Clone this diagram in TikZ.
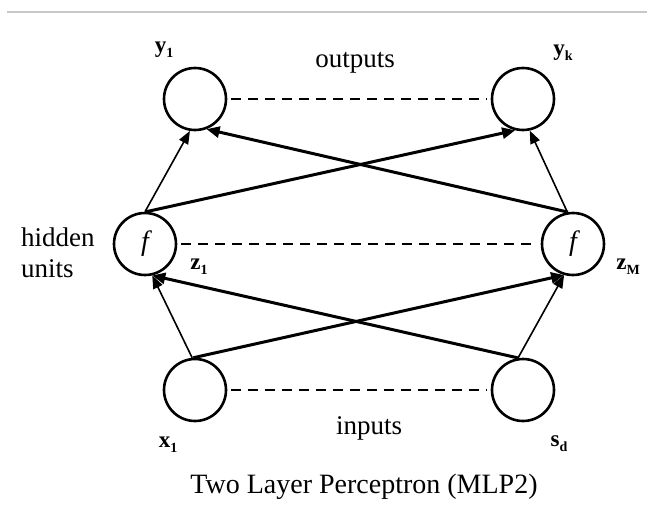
\documentclass[tikz,border=0pt]{standalone}
\usepackage{fontspec}
\setmainfont{Liberation Serif}
\usetikzlibrary{arrows.meta}
\newcommand\sublab[2]{{\fontsize{23}{24}\selectfont\bfseries #1}{\fontsize{14}{15}\selectfont\bfseries\raisebox{-5pt}{#2}}}
\begin{document}
\begin{tikzpicture}[x=1pt,y=-1pt,
  neuron/.style={circle,draw,line width=2.6pt,minimum size=62pt,inner sep=0pt},
  lightarrow/.style={line width=1.6pt,-{Triangle[length=13pt,width=10pt]}},
  heavyarrow/.style={line width=3pt,-{Triangle[length=13pt,width=11pt]}},
  dashline/.style={line width=2.4pt,dash pattern=on 10pt off 7pt,shorten <=4pt,shorten >=4pt},
  lbl/.style={font=\fontsize{27}{31}\selectfont,inner sep=0pt},
  fsym/.style={font=\fontsize{28}{30}\selectfont\itshape}]
\useasboundingbox (0,0) rectangle (647,514);
\draw[black!22,line width=2pt] (7,12) -- (647,12);
% nodes
\node[neuron] (y1) at (195,99) {};
\node[neuron] (yk) at (523,99) {};
\node[neuron,fsym] (h1) at (145,244) {f};
\node[neuron,fsym] (h2) at (573,244) {f};
\node[neuron] (x1) at (195,390) {};
\node[neuron] (xd) at (523,390) {};
% dashed links
\draw[dashline] (y1) -- (yk);
\draw[dashline] (h1) -- (h2);
\draw[dashline] (x1) -- (xd);
% arrows input -> hidden
\draw[lightarrow] (x1.95) -- (h1.-77);
\draw[heavyarrow] (x1.93) -- (h2.-106);
\draw[heavyarrow] (xd.98) -- (h1.-77);
\draw[lightarrow] (xd.99) -- (h2.-106);
% arrows hidden -> output
\draw[lightarrow] (h1.90) -- (y1.-99);
\draw[heavyarrow] (h1.88) -- (yk.-104);
\draw[heavyarrow] (h2.99) -- (y1.-69);
\draw[lightarrow] (h2.100) -- (yk.-78);
% labels
\node[inner sep=0pt] (ly1) at (164,50) {\sublab{y}{1}};
\node[inner sep=0pt] (lyk) at (563,53) {\sublab{y}{k}};
\node[lbl] (lout) at (355,63) {outputs};
\node[lbl,anchor=west,align=left] (lhid) at (21,253) {hidden\\units};
\node[inner sep=0pt] (lz1) at (199,267) {\sublab{z}{1}};
\node[inner sep=0pt] (lzm) at (628,267) {\sublab{z}{M}};
\node[lbl] (linp) at (369,428) {inputs};
\node[inner sep=0pt] (lx1) at (168,445) {\sublab{x}{1}};
\node[inner sep=0pt] (lxd) at (559,444) {\sublab{s}{d}};
\node[font=\fontsize{28}{30}\selectfont,inner sep=0pt] (cap) at (364,487) {Two Layer Perceptron (MLP2)};
\end{tikzpicture}
\end{document}
